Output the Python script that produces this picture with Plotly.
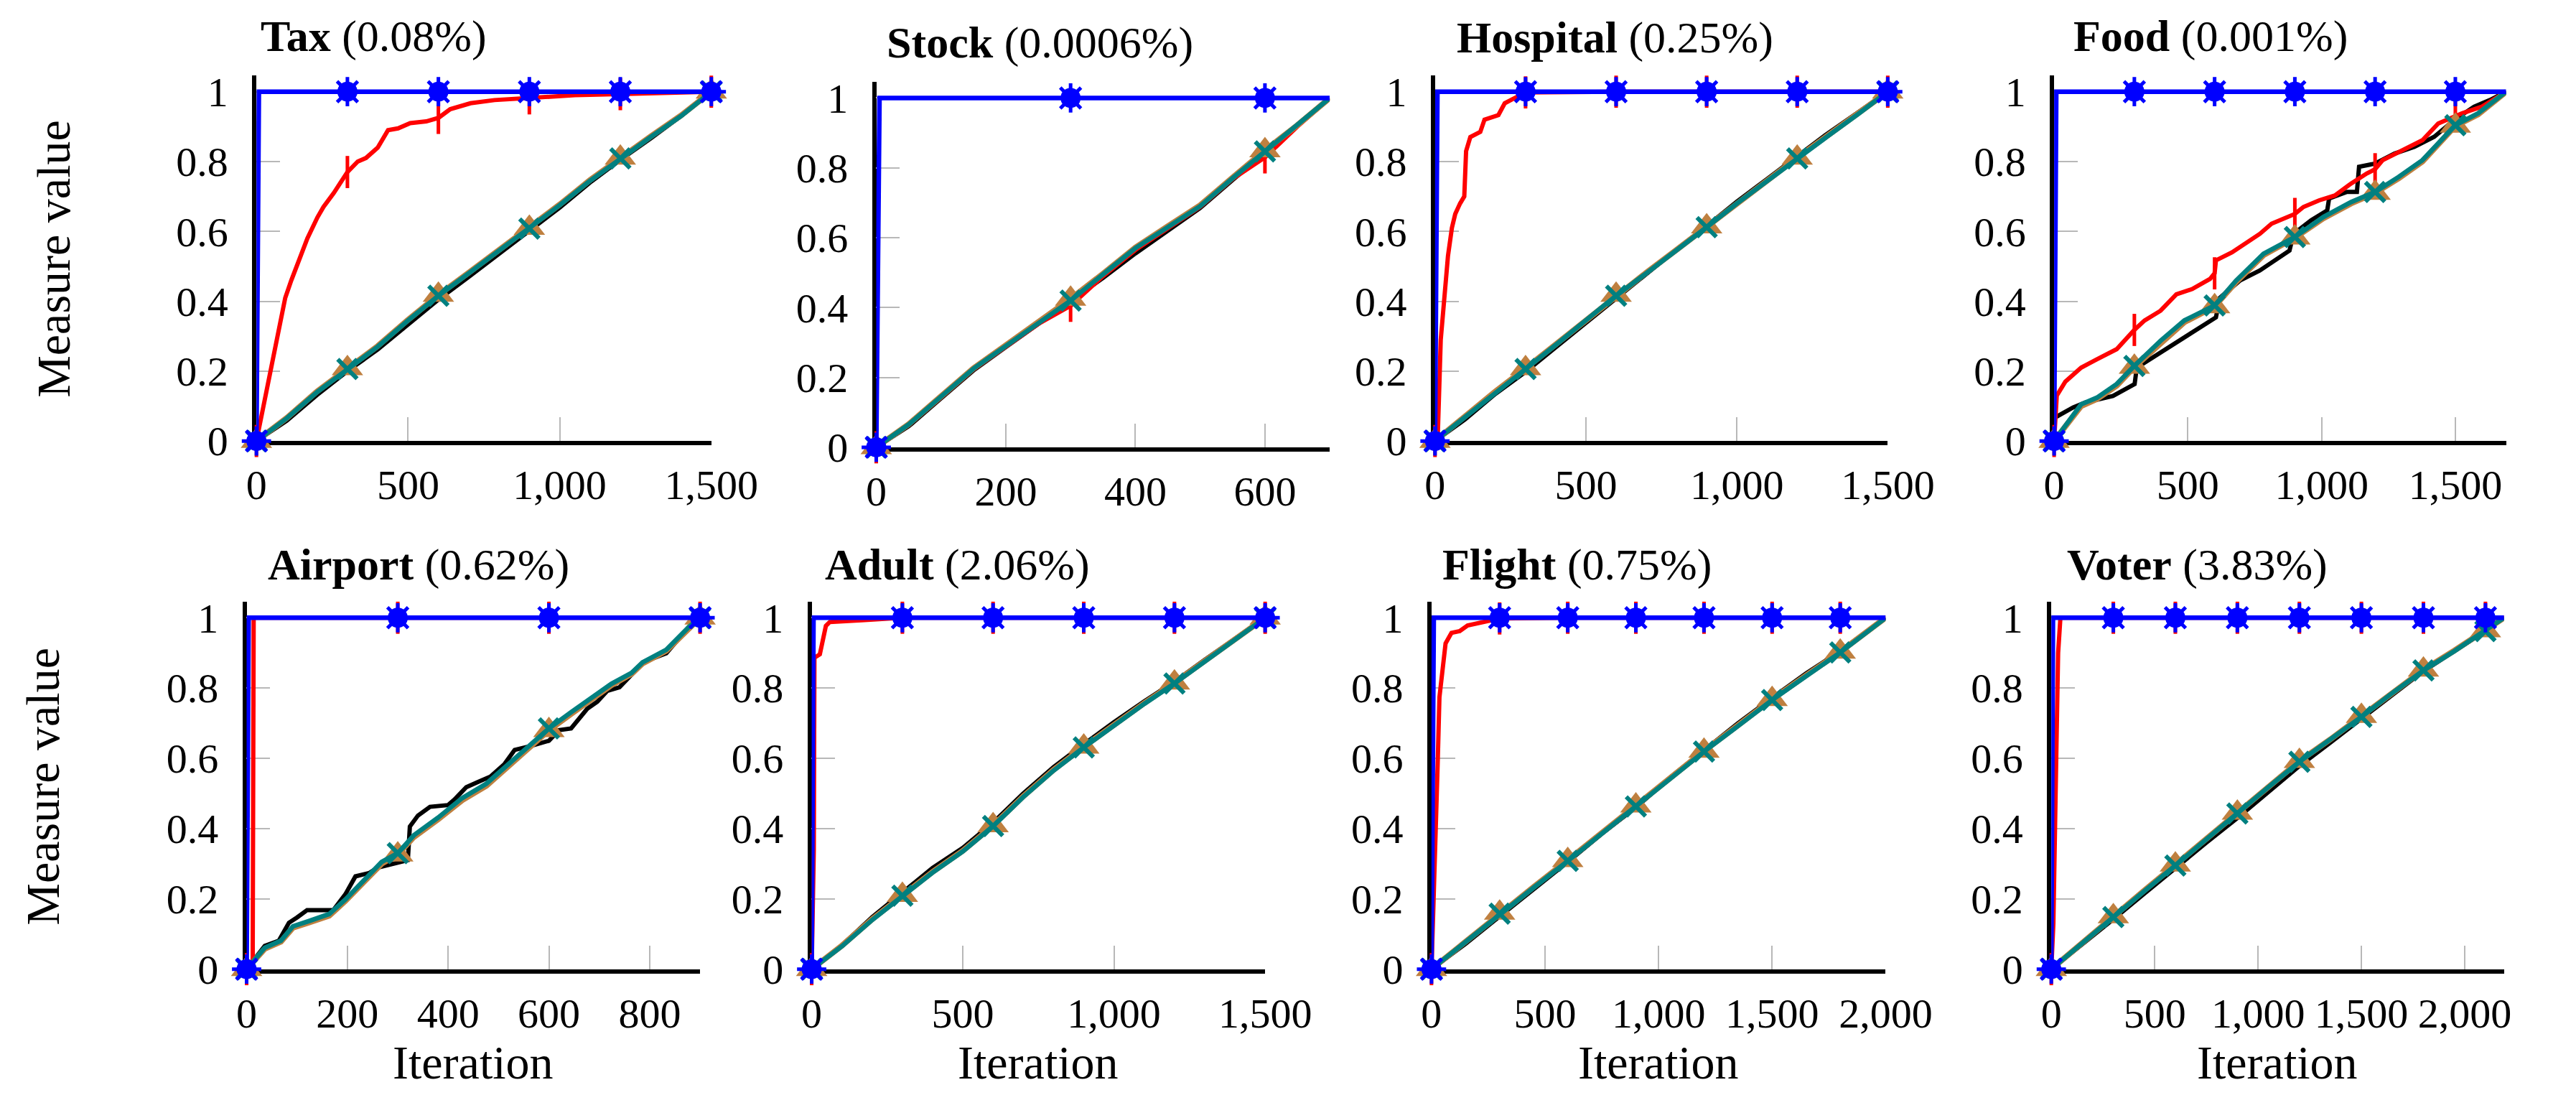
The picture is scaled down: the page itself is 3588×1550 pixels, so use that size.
import plotly.graph_objects as go

W, H = 3588, 1550
FONT = "Liberation Serif"

# ---------------- data ----------------
titles = ["Tax", "Stock", "Hospital", "Food", "Airport", "Adult", "Flight", "Voter"]
percents = ["0.08%", "0.0006%", "0.25%", "0.001%", "0.62%", "2.06%", "0.75%", "3.83%"]
x_max = [1500, 700, 1500, 1690, 900, 1500, 2000, 2190]
x_ticks = [
    [0, 500, 1000, 1500],
    [0, 200, 400, 600],
    [0, 500, 1000, 1500],
    [0, 500, 1000, 1500],
    [0, 200, 400, 600, 800],
    [0, 500, 1000, 1500],
    [0, 500, 1000, 1500, 2000],
    [0, 500, 1000, 1500, 2000],
]
y_ticks = [0, 0.2, 0.4, 0.6, 0.8, 1]
y_tick_text = ["0", "0.2", "0.4", "0.6", "0.8", "1"]
marker_step = 300

# Tax
tax_x = [0, 100, 200, 300, 400, 500, 600, 700, 800, 900, 1000, 1100, 1200, 1300, 1400, 1500]
tax_black = [0, 0.058, 0.132, 0.2, 0.262, 0.335, 0.405, 0.47, 0.535, 0.6, 0.668, 0.74, 0.805, 0.866, 0.93, 1.0]
tax_orange = [0, 0.066, 0.142, 0.208, 0.272, 0.347, 0.418, 0.482, 0.547, 0.61, 0.677, 0.747, 0.811, 0.872, 0.932, 1.0]
tax_teal = [0, 0.065, 0.14, 0.206, 0.27, 0.345, 0.416, 0.48, 0.545, 0.608, 0.675, 0.745, 0.809, 0.87, 0.93, 1.0]
tax_red_x = [0, 62, 95, 115, 140, 168, 201, 221, 255, 300, 334, 361, 400, 434, 467, 507, 560, 600, 639, 706, 785, 850, 900, 1050, 1200, 1350, 1500]
tax_red_y = [0, 0.27, 0.41, 0.46, 0.52, 0.58, 0.64, 0.67, 0.71, 0.77, 0.80, 0.81, 0.84, 0.89, 0.895, 0.91, 0.915, 0.925, 0.95, 0.967, 0.976, 0.979, 0.981, 0.99, 0.993, 0.997, 1.0]
tax_blue_x = [0, 8, 300, 600, 900, 1200, 1500]
tax_blue_y = [0, 1, 1, 1, 1, 1, 1]

# Stock
stock_x = [0, 50, 100, 150, 200, 250, 300, 350, 400, 450, 500, 550, 600, 650, 700]
stock_black = [0, 0.06, 0.14, 0.22, 0.287, 0.352, 0.418, 0.485, 0.555, 0.62, 0.685, 0.765, 0.843, 0.918, 1.0]
stock_orange = [0, 0.066, 0.146, 0.226, 0.292, 0.357, 0.425, 0.497, 0.572, 0.633, 0.693, 0.772, 0.85, 0.922, 1.0]
stock_teal = [0, 0.065, 0.145, 0.225, 0.29, 0.355, 0.42, 0.495, 0.57, 0.63, 0.69, 0.77, 0.847, 0.92, 1.0]
stock_red_x = [0, 50, 100, 150, 200, 250, 300, 350, 400, 450, 500, 550, 600, 650, 700]
stock_red_y = [0, 0.064, 0.143, 0.223, 0.288, 0.353, 0.405, 0.49, 0.565, 0.628, 0.688, 0.768, 0.83, 0.918, 1.0]
stock_blue_x = [0, 5, 300, 600, 700]
stock_blue_y = [0, 1, 1, 1, 1]

# Hospital
hosp_x = [0, 100, 200, 300, 400, 500, 600, 700, 800, 900, 1000, 1100, 1200, 1300, 1400, 1500]
hosp_black = [0, 0.062, 0.135, 0.198, 0.268, 0.338, 0.41, 0.478, 0.548, 0.615, 0.685, 0.75, 0.815, 0.88, 0.94, 1.0]
hosp_orange = [0, 0.072, 0.142, 0.208, 0.277, 0.347, 0.418, 0.482, 0.547, 0.614, 0.682, 0.747, 0.811, 0.874, 0.937, 1.0]
hosp_teal = [0, 0.07, 0.14, 0.206, 0.275, 0.345, 0.416, 0.48, 0.545, 0.612, 0.68, 0.745, 0.809, 0.872, 0.935, 1.0]
hosp_red_x = [0, 9, 19, 29, 43, 56, 67, 83, 97, 103, 117, 150, 164, 210, 231, 251, 300, 600, 900, 1200, 1500]
hosp_red_y = [0, 0.01, 0.29, 0.38, 0.53, 0.61, 0.65, 0.68, 0.70, 0.83, 0.87, 0.885, 0.92, 0.933, 0.967, 0.976, 0.998, 1, 1, 1, 1]
hosp_blue_x = [0, 8, 300, 600, 900, 1200, 1500]
hosp_blue_y = [0, 1, 1, 1, 1, 1, 1]

# Food
food_black_x = [0, 3, 71, 116, 220, 279, 301, 309, 368, 427, 487, 546, 605, 620, 694, 769, 828, 880, 895, 961, 1021, 1028, 1095, 1132, 1140, 1199, 1273, 1347, 1421, 1496, 1570, 1629, 1690]
food_black_y = [0, 0.067, 0.096, 0.11, 0.129, 0.153, 0.163, 0.21, 0.239, 0.268, 0.297, 0.325, 0.354, 0.41, 0.459, 0.488, 0.517, 0.545, 0.593, 0.632, 0.66, 0.694, 0.713, 0.713, 0.785, 0.794, 0.823, 0.842, 0.871, 0.919, 0.957, 0.976, 1.0]
food_x = [0, 101, 160, 234, 300, 398, 487, 600, 680, 783, 900, 1006, 1110, 1200, 1288, 1377, 1500, 1585, 1690]
food_orange = [0, 0.1, 0.12, 0.158, 0.212, 0.282, 0.34, 0.385, 0.455, 0.532, 0.582, 0.637, 0.68, 0.71, 0.752, 0.8, 0.902, 0.935, 1.0]
food_teal = [0, 0.105, 0.124, 0.163, 0.215, 0.287, 0.345, 0.388, 0.459, 0.536, 0.584, 0.641, 0.684, 0.713, 0.756, 0.804, 0.904, 0.938, 1.0]
food_red_x = [0, 10, 42, 101, 160, 234, 300, 338, 398, 457, 516, 583, 600, 605, 665, 724, 769, 813, 872, 900, 932, 991, 1050, 1110, 1169, 1200, 1228, 1303, 1377, 1436, 1500, 1525, 1599, 1690]
food_red_y = [0, 0.13, 0.17, 0.21, 0.234, 0.263, 0.318, 0.345, 0.373, 0.42, 0.435, 0.464, 0.48, 0.517, 0.54, 0.569, 0.593, 0.622, 0.641, 0.65, 0.67, 0.689, 0.703, 0.737, 0.766, 0.778, 0.804, 0.833, 0.861, 0.909, 0.93, 0.938, 0.957, 1.0]
food_blue_x = [0, 8, 300, 600, 900, 1200, 1500, 1690]
food_blue_y = [0, 1, 1, 1, 1, 1, 1, 1]

# Airport
air_black_x = [0, 36, 64, 84, 100, 120, 172, 196, 216, 244, 260, 288, 320, 324, 340, 364, 400, 412, 436, 460, 484, 512, 532, 564, 600, 620, 644, 676, 696, 716, 740, 772, 786, 833, 878, 900]
air_black_y = [0, 0.066, 0.081, 0.132, 0.147, 0.168, 0.168, 0.213, 0.264, 0.274, 0.289, 0.3, 0.31, 0.406, 0.437, 0.462, 0.467, 0.482, 0.518, 0.533, 0.548, 0.584, 0.624, 0.635, 0.65, 0.68, 0.685, 0.741, 0.761, 0.792, 0.802, 0.85, 0.873, 0.899, 0.974, 1.0]
air_x = [0, 36, 68, 92, 124, 164, 196, 236, 268, 300, 332, 380, 428, 476, 516, 556, 600, 644, 684, 724, 764, 786, 833, 878, 900]
air_orange = [0, 0.058, 0.078, 0.118, 0.133, 0.152, 0.194, 0.255, 0.3, 0.326, 0.376, 0.426, 0.481, 0.522, 0.572, 0.622, 0.68, 0.726, 0.768, 0.808, 0.84, 0.87, 0.906, 0.972, 1.0]
air_teal = [0, 0.061, 0.081, 0.122, 0.137, 0.157, 0.198, 0.259, 0.305, 0.33, 0.381, 0.431, 0.487, 0.528, 0.579, 0.629, 0.685, 0.731, 0.772, 0.812, 0.843, 0.873, 0.909, 0.974, 1.0]
air_red_x = [0, 12, 14, 300, 600, 900]
air_red_y = [0, 0.0, 1, 1, 1, 1]
air_blue_x = [0, 4, 300, 600, 900]
air_blue_y = [0, 1, 1, 1, 1]

# Adult
adult_x = [0, 100, 200, 300, 400, 500, 600, 700, 800, 900, 1000, 1100, 1200, 1300, 1400, 1500]
adult_black = [0, 0.068, 0.148, 0.218, 0.288, 0.345, 0.417, 0.5, 0.575, 0.64, 0.703, 0.762, 0.818, 0.88, 0.94, 1.0]
adult_orange = [0, 0.067, 0.142, 0.211, 0.277, 0.337, 0.409, 0.492, 0.567, 0.633, 0.697, 0.757, 0.815, 0.877, 0.937, 1.0]
adult_teal = [0, 0.065, 0.14, 0.209, 0.275, 0.335, 0.407, 0.49, 0.565, 0.631, 0.695, 0.755, 0.813, 0.875, 0.935, 1.0]
adult_red_x = [0, 7, 9, 27, 47, 60, 166, 233, 300, 600, 900, 1200, 1500]
adult_red_y = [0, 0.34, 0.886, 0.896, 0.977, 0.988, 0.993, 0.998, 1, 1, 1, 1, 1]
adult_blue_x = [0, 6, 300, 600, 900, 1200, 1500]
adult_blue_y = [0, 1, 1, 1, 1, 1, 1]

# Flight
flight_x = [0, 150, 300, 450, 600, 750, 900, 1050, 1200, 1350, 1500, 1650, 1800, 1950, 2000]
flight_black = [0, 0.072, 0.15, 0.227, 0.305, 0.385, 0.46, 0.545, 0.624, 0.7, 0.772, 0.842, 0.905, 0.976, 1.0]
flight_orange = [0, 0.079, 0.16, 0.234, 0.31, 0.388, 0.465, 0.544, 0.621, 0.694, 0.768, 0.836, 0.903, 0.976, 1.0]
flight_teal = [0, 0.078, 0.158, 0.232, 0.308, 0.386, 0.463, 0.542, 0.619, 0.692, 0.766, 0.834, 0.901, 0.975, 1.0]
flight_red_x = [0, 18, 27, 35, 49, 62, 88, 124, 159, 194, 247, 300, 600, 900, 1200, 1500, 1800, 2000]
flight_red_y = [0, 0.336, 0.58, 0.774, 0.866, 0.927, 0.957, 0.962, 0.978, 0.983, 0.99, 0.998, 1, 1, 1, 1, 1, 1]
flight_blue_x = [0, 10, 300, 600, 900, 1200, 1500, 1800, 2000]
flight_blue_y = [0, 1, 1, 1, 1, 1, 1, 1, 1]

# Voter
voter_x = [0, 150, 300, 450, 600, 750, 900, 1050, 1200, 1350, 1500, 1650, 1800, 1950, 2100, 2190]
voter_black = [0, 0.07, 0.142, 0.215, 0.288, 0.36, 0.43, 0.505, 0.578, 0.645, 0.712, 0.782, 0.848, 0.905, 0.962, 1.0]
voter_orange = [0, 0.076, 0.15, 0.224, 0.297, 0.372, 0.445, 0.52, 0.592, 0.654, 0.72, 0.788, 0.852, 0.907, 0.964, 1.0]
voter_teal = [0, 0.075, 0.148, 0.222, 0.295, 0.37, 0.443, 0.518, 0.59, 0.652, 0.718, 0.786, 0.85, 0.905, 0.962, 1.0]
voter_red_x = [0, 10, 25, 33, 44, 300, 600, 900, 1200, 1500, 1800, 2100, 2190]
voter_red_y = [0, 0.13, 0.64, 0.9, 1.0, 1, 1, 1, 1, 1, 1, 1, 1]
voter_blue_x = [0, 8, 300, 600, 900, 1200, 1500, 1800, 2100, 2190]
voter_blue_y = [0, 1, 1, 1, 1, 1, 1, 1, 1, 1]

series = [
    # (black_x, black_y, main_x, orange, teal, red_x, red_y, blue_x, blue_y)
    (tax_x, tax_black, tax_x, tax_orange, tax_teal, tax_red_x, tax_red_y, tax_blue_x, tax_blue_y),
    (stock_x, stock_black, stock_x, stock_orange, stock_teal, stock_red_x, stock_red_y, stock_blue_x, stock_blue_y),
    (hosp_x, hosp_black, hosp_x, hosp_orange, hosp_teal, hosp_red_x, hosp_red_y, hosp_blue_x, hosp_blue_y),
    (food_black_x, food_black_y, food_x, food_orange, food_teal, food_red_x, food_red_y, food_blue_x, food_blue_y),
    (air_black_x, air_black_y, air_x, air_orange, air_teal, air_red_x, air_red_y, air_blue_x, air_blue_y),
    (adult_x, adult_black, adult_x, adult_orange, adult_teal, adult_red_x, adult_red_y, adult_blue_x, adult_blue_y),
    (flight_x, flight_black, flight_x, flight_orange, flight_teal, flight_red_x, flight_red_y, flight_blue_x, flight_blue_y),
    (voter_x, voter_black, voter_x, voter_orange, voter_teal, voter_red_x, voter_red_y, voter_blue_x, voter_blue_y),
]

# ---------------- layout (pixel geometry) ----------------
# x pixel of iteration 0, x pixel of xmax, y pixel of value 0, y pixel of value 1
geom = [
    (350, 998, 622, 122),
    (1233, 1879, 631, 131),
    (2029, 2674, 622, 122),
    (2911, 3555, 622, 122),
    (336, 982, 1378, 875),
    (1141, 1787, 1378, 875),
    (2024, 2671, 1378, 875),
    (2907, 3552, 1378, 875),
]
Y_TOP = 1.046
title_pos = [(517, 43), (1466, 52), (2285, 45), (3134, 43), (581, 799), (1349, 799), (2231, 799), (3115, 799)]
ylabel_pos = [(61, 361), (46, 1116)]
xlabel_pos = [(659, 1511), (1464, 1511), (2347, 1511), (3229, 1511)]

RED = "#ff0000"
BLUE = "#0000ff"
BROWN = "#bf8040"
TEAL = "#008080"

fig = go.Figure()


def at_steps(xs, ys):
    px, py = [], []
    for a, b in zip(xs, ys):
        if a % marker_step == 0:
            px.append(a)
            py.append(b)
    return px, py


for i, s in enumerate(series):
    bx, by, mx, orng, teal, rx, ry, blx, bly = s
    xa = "x" if i == 0 else f"x{i+1}"
    ya = "y" if i == 0 else f"y{i+1}"
    common = dict(xaxis=xa, yaxis=ya, showlegend=False, hoverinfo="skip")

    fig.add_trace(go.Scatter(x=bx, y=by, mode="lines", line=dict(color="black", width=6), **common))

    fig.add_trace(go.Scatter(x=rx, y=ry, mode="lines", line=dict(color=RED, width=6), **common))
    px, py = at_steps(rx, ry)
    fig.add_trace(go.Scatter(x=px, y=py, mode="markers", cliponaxis=False,
                             marker=dict(symbol="line-ns-open", size=32, color=RED,
                                         line=dict(color=RED, width=5)), **common))

    fig.add_trace(go.Scatter(x=mx, y=orng, mode="lines", line=dict(color=BROWN, width=8), **common))
    px, py = at_steps(mx, orng)
    fig.add_trace(go.Scatter(x=px, y=py, mode="markers", cliponaxis=False,
                             marker=dict(symbol="triangle-up", size=38, color=BROWN,
                                         line=dict(color=BROWN, width=0)), **common))

    fig.add_trace(go.Scatter(x=mx, y=teal, mode="lines", line=dict(color=TEAL, width=6.5), **common))
    px, py = at_steps(mx, teal)
    fig.add_trace(go.Scatter(x=px, y=py, mode="markers", cliponaxis=False,
                             marker=dict(symbol="x-thin-open", size=27, color=TEAL,
                                         line=dict(color=TEAL, width=6)), **common))

    fig.add_trace(go.Scatter(x=blx, y=bly, mode="lines", line=dict(color=BLUE, width=6.5), **common))
    px, py = at_steps(blx, bly)
    fig.add_trace(go.Scatter(x=px, y=py, mode="markers", cliponaxis=False,
                             marker=dict(symbol="circle", size=28, color=BLUE,
                                         line=dict(color=BLUE, width=0)), **common))
    fig.add_trace(go.Scatter(x=px, y=py, mode="markers", cliponaxis=False,
                             marker=dict(symbol="asterisk-open", size=34, color=BLUE,
                                         line=dict(color=BLUE, width=5)), **common))

    x0p, x1p, y0p, y1p = geom[i]
    unit = y0p - y1p
    top_px = y0p - unit * Y_TOP
    xd = [x0p / W, x1p / W]
    yd = [1 - y0p / H, 1 - top_px / H]
    axis_common = dict(showline=True, linecolor="black", linewidth=5.5, mirror=False,
                       showgrid=False, zeroline=False, ticks="inside", ticklen=33,
                       tickwidth=2, tickcolor="#b8b8b8", layer="below traces",
                       tickfont=dict(family=FONT, size=58, color="black"))
    fig.update_layout(**{
        ("xaxis" if i == 0 else f"xaxis{i+1}"): dict(
            domain=xd, anchor=ya, range=[0, x_max[i]], tickvals=x_ticks[i],
            tickformat=",d", ticklabelstandoff=6, **axis_common),
        ("yaxis" if i == 0 else f"yaxis{i+1}"): dict(
            domain=yd, anchor=xa, range=[0, Y_TOP], tickvals=y_ticks,
            ticktext=y_tick_text, ticklabelstandoff=22, **axis_common),
    })

    tx, ty = title_pos[i]
    fig.add_annotation(text=f"<b>{titles[i]}</b> ({percents[i]})", x=tx / W, y=1 - ty / H,
                       xref="paper", yref="paper", xanchor="center", yanchor="middle",
                       showarrow=False, font=dict(family=FONT, size=62, color="black"))

for (lx, ly) in ylabel_pos:
    fig.add_annotation(text="Measure value", x=lx / W, y=1 - ly / H, xref="paper", yref="paper",
                       xanchor="center", yanchor="middle", textangle=-90, showarrow=False,
                       font=dict(family=FONT, size=66, color="black"))
for (lx, ly) in xlabel_pos:
    fig.add_annotation(text="Iteration", x=lx / W, y=1 - ly / H, xref="paper", yref="paper",
                       xanchor="center", yanchor="middle", showarrow=False,
                       font=dict(family=FONT, size=66, color="black"))

fig.update_layout(width=W, height=H, margin=dict(l=0, r=0, t=0, b=0),
                  paper_bgcolor="white", plot_bgcolor="white",
                  font=dict(family=FONT, color="black"))

fig.write_html("out.html", config={"displayModeBar": False})
